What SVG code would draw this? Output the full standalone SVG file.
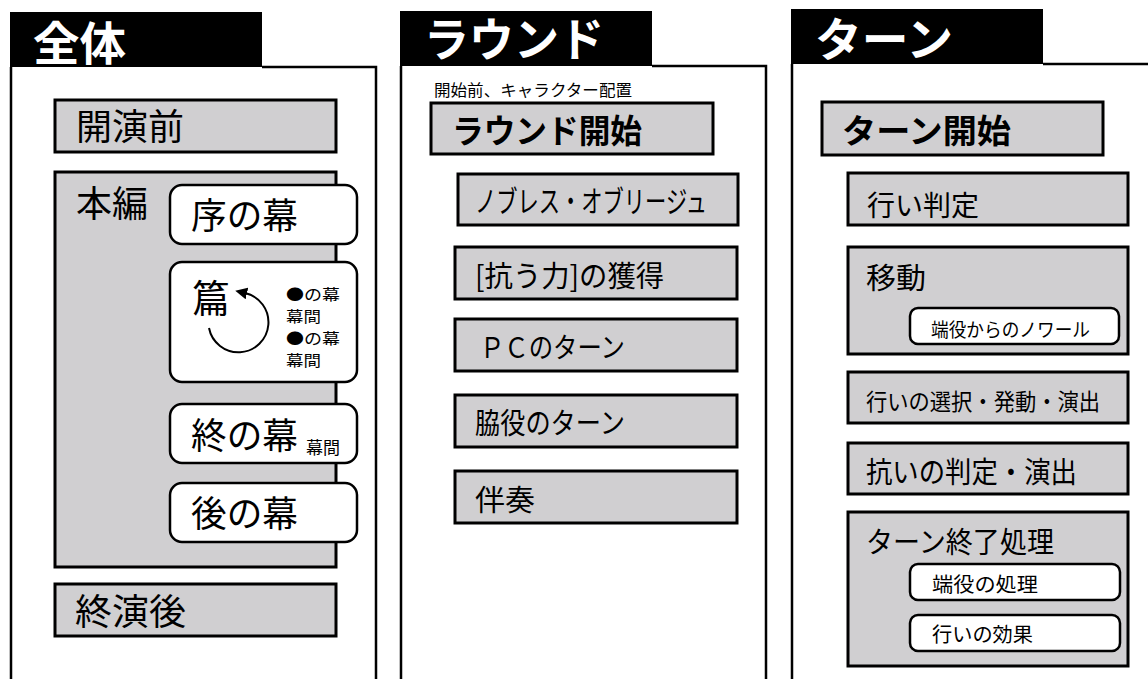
<svg xmlns="http://www.w3.org/2000/svg" width="1148" height="679" viewBox="0 0 1148 679">
<style>
.tab{fill:#000}
.panel{fill:none;stroke:#000;stroke-width:2.5}
.box{fill:#d0cfd1;stroke:#000;stroke-width:3}
.rbox{fill:#fff;stroke:#000;stroke-width:2.5}
.hd{font-family:"Liberation Serif","Noto Sans CJK JP",serif;font-weight:bold;fill:#fff;font-size:46px}
.t{font-family:"Noto Sans CJK JP",sans-serif;fill:#000}
.b{font-weight:bold}
.sm{font-size:15px}
</style>
<defs>
<marker id="ah" markerWidth="12" markerHeight="12" refX="2" refY="6" orient="auto" markerUnits="userSpaceOnUse" viewBox="0 0 12 12">
<path d="M0,0 L12,6 L0,12 z" fill="#000"/>
</marker>
</defs>
<rect width="1148" height="679" fill="#fff"/>

<g id="panel-zentai">
<rect class="tab" x="10" y="12" width="252" height="55"/>
<text class="hd" x="33" y="60" textLength="93" lengthAdjust="spacingAndGlyphs">全体</text>
<path class="panel" d="M11,67 V679 M262,67 H376 V679"/>
</g>
<g id="kaienmae">
<rect class="box" x="55" y="100" width="281" height="52"/>
<text class="t" x="76" y="140" font-size="36" textLength="108" lengthAdjust="spacingAndGlyphs">開演前</text>
</g>
<g id="honpen">
<rect class="box" x="55" y="172" width="281" height="395"/>
<text class="t" x="76" y="217" font-size="36" textLength="72" lengthAdjust="spacingAndGlyphs">本編</text>
</g>
<g id="jonomaku">
<rect class="rbox" x="170" y="185" width="187" height="59" rx="12"/>
<text class="t" x="191" y="229" font-size="36" textLength="107" lengthAdjust="spacingAndGlyphs">序の幕</text>
</g>
<g id="hen">
<rect class="rbox" x="170" y="262" width="187" height="120" rx="12"/>
<text class="t" x="192" y="312" font-size="38">篇</text>
<text class="t sm" x="286" y="300" textLength="54" lengthAdjust="spacingAndGlyphs">●の幕</text>
<text class="t sm" x="286" y="322" textLength="35" lengthAdjust="spacingAndGlyphs">幕間</text>
<text class="t sm" x="286" y="344" textLength="54" lengthAdjust="spacingAndGlyphs">●の幕</text>
<text class="t sm" x="286" y="366" textLength="35" lengthAdjust="spacingAndGlyphs">幕間</text>
</g>
<g id="tsuinomaku">
<rect class="rbox" x="170" y="404" width="187" height="59" rx="12"/>
<text class="t" x="191" y="449" font-size="36" textLength="107" lengthAdjust="spacingAndGlyphs">終の幕</text>
<text class="t" x="306" y="454" font-size="17">幕間</text>
</g>
<g id="atonomaku">
<rect class="rbox" x="170" y="483" width="187" height="59" rx="12"/>
<text class="t" x="191" y="527" font-size="36" textLength="107" lengthAdjust="spacingAndGlyphs">後の幕</text>
</g>
<g id="shuenngo">
<rect class="box" x="55" y="584" width="281" height="52"/>
<text class="t" x="75" y="625" font-size="36" textLength="111" lengthAdjust="spacingAndGlyphs">終演後</text>
</g>

<g id="panel-round">
<rect class="tab" x="400" y="11" width="252" height="55"/>
<text class="hd" x="424" y="56" textLength="180" lengthAdjust="spacingAndGlyphs">ラウンド</text>
<path class="panel" d="M401,66 V679 M652,66 H766 V679"/>
<text class="t" x="434" y="96" font-size="16" textLength="198" lengthAdjust="spacingAndGlyphs">開始前、キャラクター配置</text>
</g>
<g id="round-start">
<rect class="box" x="431" y="103" width="282" height="51"/>
<text class="t b" x="452" y="143" font-size="33" textLength="190" lengthAdjust="spacingAndGlyphs">ラウンド開始</text>
</g>
<g id="noblesse">
<rect class="box" x="458" y="174" width="280" height="51"/>
<text class="t" x="475" y="212" font-size="30" textLength="232" lengthAdjust="spacingAndGlyphs">ノブレス・オブリージュ</text>
</g>
<g id="aragau">
<rect class="box" x="455" y="247" width="282" height="52"/>
<text class="t" x="475" y="287" font-size="29" textLength="189" lengthAdjust="spacingAndGlyphs">[抗う力]の獲得</text>
</g>
<g id="pc-turn">
<rect class="box" x="455" y="319" width="282" height="52"/>
<text class="t" x="480" y="358" font-size="28" textLength="145" lengthAdjust="spacingAndGlyphs">ＰＣのターン</text>
</g>
<g id="wakiyaku-turn">
<rect class="box" x="455" y="395" width="282" height="52"/>
<text class="t" x="475" y="434" font-size="29" textLength="150" lengthAdjust="spacingAndGlyphs">脇役のターン</text>
</g>
<g id="bansou">
<rect class="box" x="455" y="471" width="282" height="52"/>
<text class="t" x="475" y="511" font-size="29" textLength="60" lengthAdjust="spacingAndGlyphs">伴奏</text>
</g>

<g id="panel-turn">
<rect class="tab" x="791" y="9" width="252" height="55"/>
<text class="hd" x="815" y="56" textLength="138" lengthAdjust="spacingAndGlyphs">ターン</text>
<path class="panel" d="M792,64 V679 M1043,64 H1148"/>
</g>
<g id="turn-start">
<rect class="box" x="822" y="102" width="281" height="53"/>
<text class="t b" x="842" y="143" font-size="33" textLength="169" lengthAdjust="spacingAndGlyphs">ターン開始</text>
</g>
<g id="okonai-hantei">
<rect class="box" x="848" y="173" width="280" height="52"/>
<text class="t" x="867" y="216" font-size="28" textLength="112" lengthAdjust="spacingAndGlyphs">行い判定</text>
</g>
<g id="idou">
<rect class="box" x="848" y="247" width="280" height="107"/>
<text class="t" x="866" y="289" font-size="29" textLength="60" lengthAdjust="spacingAndGlyphs">移動</text>
<rect class="rbox" x="910" y="308" width="209" height="36" rx="8"/>
<text class="t" x="931" y="337" font-size="19" textLength="159" lengthAdjust="spacingAndGlyphs">端役からのノワール</text>
</g>
<g id="okonai-sentaku">
<rect class="box" x="848" y="372" width="280" height="51"/>
<text class="t" x="866" y="410" font-size="23" textLength="234" lengthAdjust="spacingAndGlyphs">行いの選択・発動・演出</text>
</g>
<g id="aragai-hantei">
<rect class="box" x="848" y="443" width="280" height="51"/>
<text class="t" x="866" y="483" font-size="29" textLength="211" lengthAdjust="spacingAndGlyphs">抗いの判定・演出</text>
</g>
<g id="turn-end">
<rect class="box" x="848" y="512" width="280" height="154"/>
<text class="t" x="866" y="553" font-size="29" textLength="188" lengthAdjust="spacingAndGlyphs">ターン終了処理</text>
<rect class="rbox" x="910" y="564" width="210" height="36" rx="8"/>
<text class="t" x="932" y="592" font-size="20" textLength="106" lengthAdjust="spacingAndGlyphs">端役の処理</text>
<rect class="rbox" x="910" y="615" width="210" height="36" rx="8"/>
<text class="t" x="932" y="642" font-size="20" textLength="101" lengthAdjust="spacingAndGlyphs">行いの効果</text>
</g>

<g id="connectors">
<path d="M209,328 A30,30 0 1 0 245,293" fill="none" stroke="#000" stroke-width="2" marker-end="url(#ah)"/>
</g>
</svg>
